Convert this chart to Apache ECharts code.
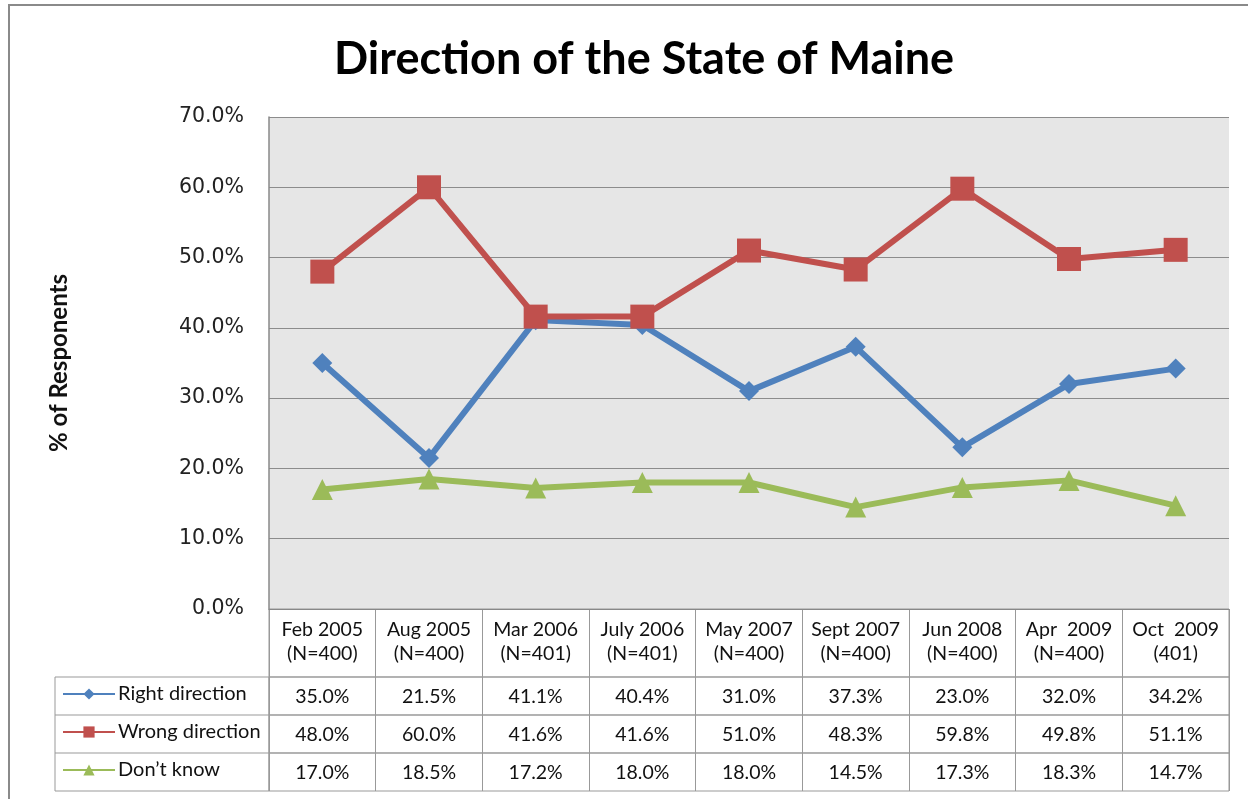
<!DOCTYPE html>
<html lang="en">
<head>
    <meta charset="utf-8">
    <title>Direction of the State of Maine</title>
    <script src="https://cdn.jsdelivr.net/npm/echarts@6/dist/echarts.min.js"></script>
    <style>
        html, body { margin: 0; padding: 0; background: #fff; }
        #main { width: 1248px; height: 799px; }
    </style>
</head>
<body>
<div id="main"></div>
<script>
    // survey waves (header of the data table)
    var categories = ['Feb 2005\n(N=400)', 'Aug 2005\n(N=400)', 'Mar 2006\n(N=401)', 'July 2006\n(N=401)',
        'May 2007\n(N=400)', 'Sept 2007\n(N=400)', 'Jun 2008\n(N=400)', 'Apr  2009\n(N=400)', 'Oct  2009\n(401)'];
    var seriesNames = ['Right direction', 'Wrong direction', 'Don\u2019t know'];
    var rightDir = [35.0, 21.5, 41.1, 40.4, 31.0, 37.3, 23.0, 32.0, 34.2];
    var wrongDir = [48.0, 60.0, 41.6, 41.6, 51.0, 48.3, 59.8, 49.8, 51.1];
    var dontKnow = [17.0, 18.5, 17.2, 18.0, 18.0, 14.5, 17.3, 18.3, 14.7];
    var yTicks = [0, 10, 20, 30, 40, 50, 60, 70];

    var allValues = [rightDir, wrongDir, dontKnow];
    var colors = ['#4F81BD', '#C0504D', '#9BBB59'];
    var symbols = ['diamond', 'rect', 'triangle'];
    var symbolSizes = [20, 24, 21];

    var plotLeft = 269, plotWidth = 960;
    var rowTops = [677, 715, 753];
    var rowH = 38;
    var tableFont = 'Lato, "Open Sans", sans-serif';

    var grids = [
        { left: plotLeft, top: 117, width: plotWidth, height: 492, show: true,
          backgroundColor: '#e6e6e6', borderWidth: 0 },
        { left: plotLeft, top: 609, width: plotWidth, height: 68, show: true,
          borderColor: '#999', borderWidth: 1 }
    ];
    rowTops.forEach(function (t) {
        grids.push({ left: plotLeft, top: t, width: plotWidth, height: rowH, show: true,
            borderColor: '#999', borderWidth: 1 });
    });

    var cellAxis = function (gi, data, margin) {
        return {
            type: 'category', gridIndex: gi, data: data, position: 'top', boundaryGap: true,
            axisLine: { show: false }, axisTick: { show: false },
            splitLine: { show: true, interval: 0, lineStyle: { color: '#999', width: 1 } },
            axisLabel: { inside: true, interval: 0, margin: margin, color: '#111',
                fontSize: 19.5, lineHeight: 24, fontFamily: tableFont }
        };
    };

    var xAxes = [{
        type: 'category', gridIndex: 0, data: categories, boundaryGap: true,
        axisLine: { show: true, lineStyle: { color: '#888' } },
        axisTick: { show: false }, axisLabel: { show: false }
    }, cellAxis(1, categories, 9)];
    allValues.forEach(function (vals, i) {
        xAxes.push(cellAxis(2 + i, vals.map(function (v) { return v.toFixed(1) + '%'; }), 8));
    });

    var yAxes = [{
        type: 'value', gridIndex: 0, min: yTicks[0], max: yTicks[yTicks.length - 1], interval: 10,
        name: '% of Responents', nameLocation: 'middle', nameGap: 198,
        nameTextStyle: { fontSize: 24, fontWeight: 'bold', color: '#111', fontFamily: tableFont },
        axisLine: { show: true, lineStyle: { color: '#888', width: 1.5 } },
        axisTick: { show: false },
        splitLine: { show: true, lineStyle: { color: '#8c8c8c', width: 1.2 } },
        axisLabel: { margin: 25, fontSize: 20.5, color: '#222', fontFamily: '"DejaVu Sans", sans-serif',
            formatter: function (v) { return v.toFixed(1) + '%'; } }
    }];
    for (var g = 1; g < grids.length; g++) {
        yAxes.push({ type: 'value', gridIndex: g, show: false, splitLine: { show: false } });
    }

    var series = allValues.map(function (vals, i) {
        return {
            name: seriesNames[i], type: 'line', xAxisIndex: 0, yAxisIndex: 0, data: vals,
            symbol: symbols[i], symbolSize: symbolSizes[i], showAllSymbol: true,
            lineStyle: { color: colors[i], width: 6 },
            itemStyle: { color: colors[i] }, z: 3 + i
        };
    });

    // one legend per table row so each sits in its own cell
    var legends = seriesNames.map(function (n, i) {
        return {
            data: [n], orient: 'vertical', left: 62, top: rowTops[i] + 7, padding: 0,
            itemWidth: 52, itemHeight: 14, itemGap: 4, selectedMode: false,
            lineStyle: { width: 2 },
            textStyle: { fontSize: 20, color: '#111', fontFamily: tableFont, padding: [0, 0, 0, -2] }
        };
    });

    var chart = echarts.init(document.getElementById('main'));
    chart.setOption({
        backgroundColor: '#fff',
        animation: false,
        title: {
            text: 'Direction of the State of Maine', left: 329, top: 32,
            textStyle: { fontSize: 45, fontWeight: 'bold', color: '#000', fontFamily: tableFont }
        },
        legend: legends,
        grid: grids,
        xAxis: xAxes,
        yAxis: yAxes,
        series: series,
        graphic: [
            // outer chart frame
            { type: 'polyline', shape: { points: [[9, 799], [9, 5], [1248, 5]] },
              style: { stroke: '#8a8a8a', lineWidth: 2, fill: null } },
            // legend column of the data table
            { type: 'rect', shape: { x: 55, y: rowTops[0], width: plotLeft - 55, height: rowH * 3 },
              style: { stroke: '#999', lineWidth: 1, fill: null } },
            { type: 'line', shape: { x1: 55, y1: rowTops[1], x2: plotLeft, y2: rowTops[1] },
              style: { stroke: '#999', lineWidth: 1 } },
            { type: 'line', shape: { x1: 55, y1: rowTops[2], x2: plotLeft, y2: rowTops[2] },
              style: { stroke: '#999', lineWidth: 1 } }
        ]
    });
</script>
</body>
</html>
